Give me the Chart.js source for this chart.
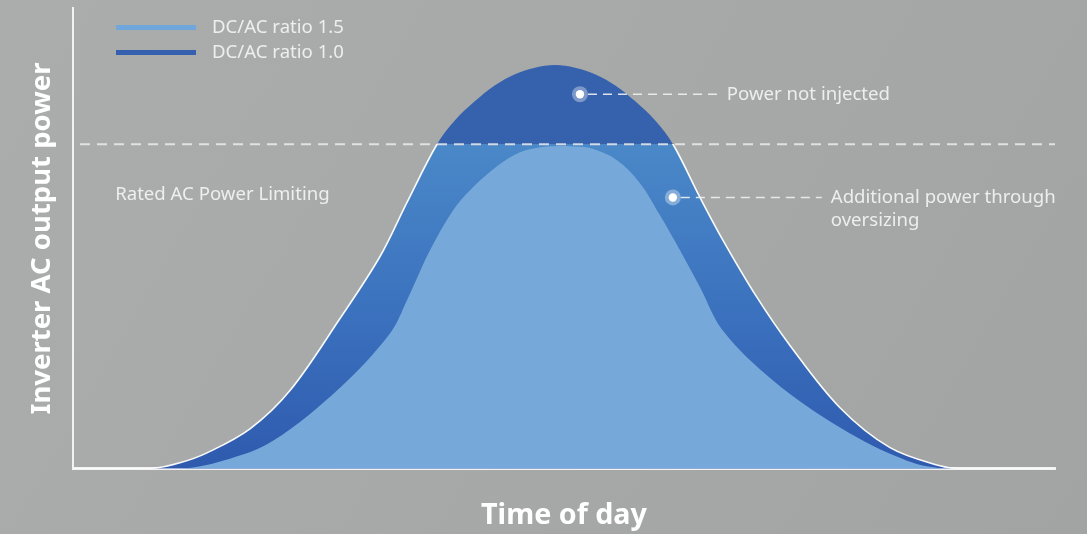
<!DOCTYPE html>
<html>
<head>
<meta charset="utf-8">
<script src="https://cdn.jsdelivr.net/npm/chart.js@4.4.1/dist/chart.umd.min.js"></script>
<style>
  html, body { margin: 0; padding: 0; }
  body { width: 1087px; height: 534px; overflow: hidden;
         background: linear-gradient(120deg, #abadad 0%, #a7a9a9 50%, #a2a3a3 100%); }
  #wrap { position: relative; width: 1087px; height: 534px; }
</style>
</head>
<body>
<div id="wrap"><canvas id="c"></canvas></div>
<script>
// ---- data (x: hour of day, y: output power relative to rated AC power) ----
const seriesLabels = ['DC/AC ratio 1.5', 'DC/AC ratio 1.0'];
const innerHours = [0, 2.615, 3.837, 4.888, 6.525, 7.747, 8.163, 8.725, 9.287, 9.703, 10.362, 10.925, 11.413, 11.780, 12.147, 12.635, 13.295, 13.857, 14.346, 14.835, 15.324, 15.886, 17.108, 18.745, 20.383, 21.434, 24];
const innerPower = [0, 0, 0.031, 0.086, 0.25, 0.417, 0.519, 0.673, 0.796, 0.858, 0.932, 0.975, 0.991, 0.994, 0.994, 0.988, 0.951, 0.880, 0.781, 0.673, 0.559, 0.425, 0.272, 0.127, 0.025, 0, 0];
const outerHours = [0, 1.882, 2.615, 3.275, 4.326, 5.303, 6.525, 7.503, 8.163, 8.896, 9.336, 9.825, 10.314, 10.802, 11.291, 11.780, 12.269, 12.758, 13.246, 13.735, 14.224, 14.664, 15.324, 15.886, 16.717, 17.523, 18.745, 19.968, 21.189, 21.678, 24];
const outerPower = [0, 0, 0.0185, 0.049, 0.123, 0.241, 0.463, 0.654, 0.821, 1.0, 1.074, 1.133, 1.182, 1.216, 1.236, 1.244, 1.236, 1.216, 1.182, 1.133, 1.074, 1.0, 0.836, 0.704, 0.528, 0.380, 0.188, 0.065, 0.009, 0, 0];
const ratedPower = 1.0;
const xTitle = 'Time of day';
const yTitle = 'Inverter AC output power';
const annotationTexts = [['Power not injected'], ['Additional power through', 'oversizing']];
const annotationDots = [[12.39, 1.154], [14.66, 0.836]];
const annotationTextX = [15.98, 18.52];
const ratedText = 'Rated AC Power Limiting';
const ratedTextPos = [1.03, 0.846];

const innerColor = '#76a9da';
const outerTopColor = '#3561ad';
const legendColors = ['#6fa6dc', '#3460ad'];
const txtColor = 'rgba(245,245,245,0.9)';
const FONT = '"Noto Sans", "Open Sans", sans-serif';
const TXT = '18.6px ' + FONT;

function toXY(xs, ys) { return xs.map((x, i) => ({ x: x, y: ys[i] })); }

function outerFill(ctx) {
  const chart = ctx.chart;
  const area = chart.chartArea;
  if (!area) return outerTopColor;
  const yr = chart.scales.y.getPixelForValue(ratedPower);
  const g = chart.ctx.createLinearGradient(0, area.top, 0, area.bottom);
  const p = (yr - area.top) / (area.bottom - area.top);
  g.addColorStop(0, outerTopColor);
  g.addColorStop(Math.max(0, p - 0.0005), outerTopColor);
  g.addColorStop(p, '#4a88c8');
  g.addColorStop(p + (1 - p) * 0.55, '#3a70bd');
  g.addColorStop(1, '#2f5aae');
  return g;
}
function outerBorder(ctx) {
  const chart = ctx.chart;
  const area = chart.chartArea;
  if (!area) return 'rgba(255,255,255,0)';
  const yr = chart.scales.y.getPixelForValue(ratedPower);
  const g = chart.ctx.createLinearGradient(0, area.top, 0, area.bottom);
  const p = (yr - area.top) / (area.bottom - area.top);
  g.addColorStop(0, 'rgba(255,255,255,0)');
  g.addColorStop(Math.max(0, p - 0.0005), 'rgba(255,255,255,0)');
  g.addColorStop(p, 'rgba(255,255,255,0.95)');
  g.addColorStop(1, 'rgba(255,255,255,0.95)');
  return g;
}

const overlay = {
  id: 'overlay',
  afterDatasetsDraw(chart) {
    const c = chart.ctx, xs = chart.scales.x, ys = chart.scales.y, a = chart.chartArea;
    c.save();
    // rated power dashed line
    const yr = ys.getPixelForValue(ratedPower);
    c.strokeStyle = 'rgba(235,235,235,0.85)';
    c.lineWidth = 2;
    c.setLineDash([10, 7]);
    c.beginPath(); c.moveTo(a.left + 7, yr); c.lineTo(a.right, yr); c.stroke();
    // rated text
    c.fillStyle = txtColor;
    c.font = TXT;
    c.textBaseline = 'middle';
    c.textAlign = 'left';
    c.fillText(ratedText, xs.getPixelForValue(ratedTextPos[0]), ys.getPixelForValue(ratedTextPos[1]));
    // annotations
    annotationDots.forEach((d, i) => {
      const px = xs.getPixelForValue(d[0]), py = ys.getPixelForValue(d[1]);
      const tx = xs.getPixelForValue(annotationTextX[i]);
      c.strokeStyle = 'rgba(240,240,240,0.9)';
      c.lineWidth = 1.5;
      c.setLineDash([9, 6]);
      c.beginPath(); c.moveTo(px + 8, py); c.lineTo(tx - 9, py); c.stroke();
      c.setLineDash([]);
      c.fillStyle = 'rgba(255,255,255,0.35)';
      c.beginPath(); c.arc(px, py, 8, 0, Math.PI * 2); c.fill();
      c.fillStyle = '#ffffff';
      c.beginPath(); c.arc(px, py, 4.2, 0, Math.PI * 2); c.fill();
      c.fillStyle = txtColor;
      c.font = TXT;
      annotationTexts[i].forEach((t, k) => c.fillText(t, tx, py + k * 23));
    });
    // legend
    chart.data.datasets.forEach((ds, i) => {
      const y = a.top + 19.5 + i * 25;
      c.fillStyle = legendColors[i];
      c.fillRect(a.left + 43, y - 2.5, 80, 5);
      c.fillStyle = txtColor;
      c.font = TXT;
      c.fillText(ds.label, a.left + 139, y);
    });
    c.restore();
  }
};

new Chart(document.getElementById('c'), {
  type: 'line',
  data: {
    datasets: [
      { label: seriesLabels[0], data: toXY(innerHours, innerPower), fill: 'origin',
        backgroundColor: innerColor, borderWidth: 0, borderColor: 'rgba(0,0,0,0)',
        pointRadius: 0, tension: 0.35 },
      { label: seriesLabels[1], data: toXY(outerHours, outerPower), fill: 'origin',
        backgroundColor: outerFill, borderColor: outerBorder, borderWidth: 1.6,
        pointRadius: 0, tension: 0.35 }
    ]
  },
  options: {
    responsive: true, maintainAspectRatio: false, animation: false,
    devicePixelRatio: 1,
    layout: { padding: { top: 8, right: 32, left: 0, bottom: 0 } },
    plugins: { legend: { display: false }, tooltip: { enabled: false } },
    scales: {
      x: { type: 'linear', min: 0, max: 24,
           grid: { display: false, drawTicks: false },
           ticks: { display: false },
           border: { display: true, color: '#f2f2f2', width: 3 },
           title: { display: true, text: xTitle, color: '#ffffff',
                    font: { family: FONT, size: 28.7, weight: 'bold' },
                    padding: { top: 29.4, bottom: 1.4 } } },
      y: { min: 0, max: 460 / 324,
           grid: { display: false, drawTicks: false },
           ticks: { display: false },
           border: { display: true, color: '#f2f2f2', width: 2 },
           title: { display: true, text: yTitle, color: '#ffffff',
                    font: { family: FONT, size: 27.5, weight: 'bold' },
                    padding: { top: 25.5, bottom: 14.5 } } }
    }
  },
  plugins: [overlay]
});
</script>
</body>
</html>
